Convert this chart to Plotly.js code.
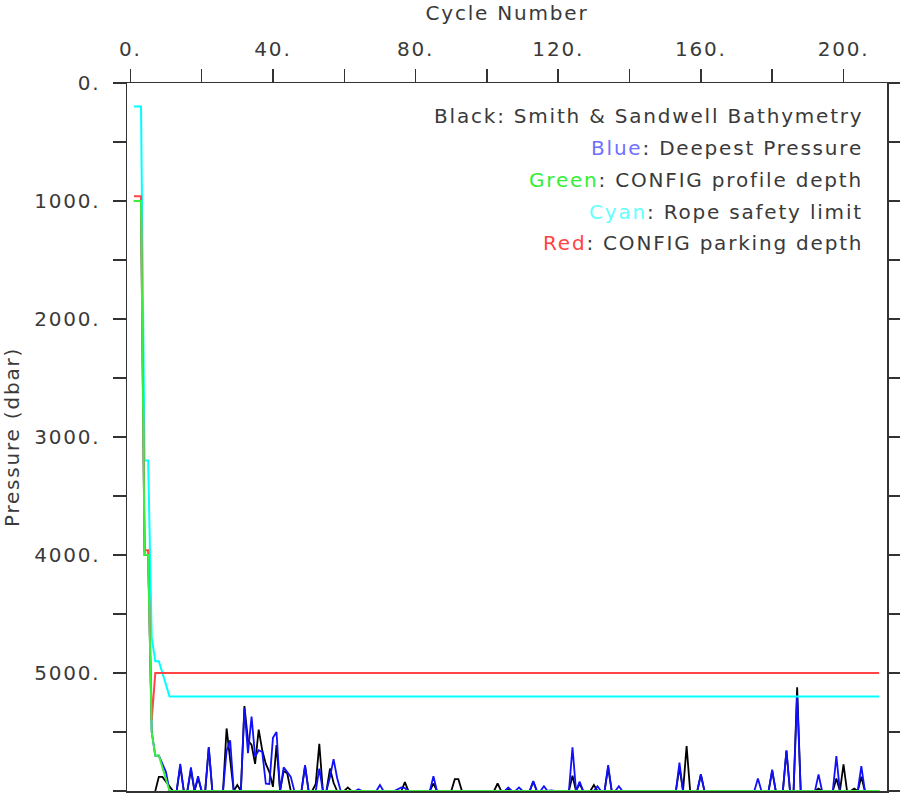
<!DOCTYPE html>
<html>
<head>
<meta charset="utf-8">
<script src="https://cdn.plot.ly/plotly-3.0.1.min.js"></script>
<style>
html,body{margin:0;padding:0;background:#fff;}
#chart{width:900px;height:800px;}
svg text{letter-spacing:1.8px;}
</style>
</head>
<body>
<div id="chart"></div>
<script>
// Smith & Sandwell bathymetry (dbar) per cycle 1..210 (null = below plot / not shown)
var bathymetry = [
  null,null,null,null,null,null,6000,5880,5880,5920,
  5950,6000,6000,5790,6000,6000,5820,6000,5890,6000,
  6000,5630,6000,6000,6000,6000,5470,5740,6000,5950,
  6000,5280,5570,5610,5770,5480,5655,5770,5840,5965,
  5610,6000,5830,5850,6000,6000,6000,6000,5790,6000,
  6000,5940,5600,6000,6000,5810,5930,6000,6000,6000,
  5970,6000,6000,6000,6000,6000,6000,6000,6000,6000,
  6000,6000,6000,6000,6000,6000,5925,6000,6000,6000,
  6000,6000,6000,6000,5935,6000,6000,6000,6000,6000,
  5900,5900,6000,6000,6000,6000,6000,6000,6000,6000,
  6000,6000,5935,6000,6000,5985,6000,6000,6000,6000,
  6000,6000,5920,6000,6000,6000,6000,6000,6000,6000,
  6000,6000,6000,5870,6000,5940,6000,6000,6000,5950,
  6000,6000,6000,5800,6000,6000,6000,6000,6000,6000,
  6000,6000,6000,6000,6000,6000,6000,6000,6000,6000,
  6000,6000,6000,5800,6000,5620,6000,6000,6000,5860,
  6000,6000,6000,6000,6000,6000,6000,6000,6000,6000,
  6000,6000,6000,6000,6000,6000,6000,6000,6000,5830,
  6000,6000,6000,5660,6000,6000,5120,6000,6000,6000,
  6000,6000,5980,6000,6000,6000,6000,5895,6000,5775,
  6000,6000,5980,6000,5880,6000,6000,6000,6000,6000
];
// Deepest pressure (dbar) per cycle 1..210
var deepestPressure = [
  1000,1000,1000,4000,4000,5500,5700,5700,5775,5840,
  6000,6000,6000,5770,6000,6000,5800,6000,5875,6000,
  6000,5630,6000,6000,6000,6000,5660,5570,6000,6000,
  6000,5300,5680,5370,5710,5655,5670,5937,5940,5550,
  5500,6000,5800,5840,5880,6000,6000,6000,5780,6000,
  6000,6000,5810,6000,6000,5880,5730,5890,6000,6000,
  6000,6000,6000,5985,6000,6000,6000,6000,6000,5950,
  6000,6000,6000,6000,5985,5970,5975,6000,6000,6000,
  6000,6000,6000,6000,5875,6000,6000,6000,6000,6000,
  6000,6000,6000,6000,6000,6000,6000,6000,6000,6000,
  6000,6000,6000,6000,6000,5970,6000,6000,5970,6000,
  6000,6000,5915,6000,6000,5960,6000,5995,6000,6000,
  5995,6000,6000,5630,6000,5920,6000,6000,6000,6000,
  5960,6000,6000,5780,6000,6000,5960,6000,6000,6000,
  6000,6000,6000,6000,6000,6000,6000,6000,6000,6000,
  6000,6000,6000,5760,6000,6000,6000,6000,6000,5860,
  6000,6000,6000,6000,6000,6000,6000,6000,6000,6000,
  6000,6000,6000,6000,6000,5895,6000,6000,6000,5820,
  6000,6000,6000,5655,6000,6000,5190,6000,6000,6000,
  6000,6000,5860,6000,6000,6000,6000,5705,6000,6000,
  6000,6000,6000,6000,5790,6000,6000,6000,6000,6000
];
// Step series given at their break-point cycles
var profileCycles = [1,3,4,5,6,7,8,9,10,11,210];
var profileDepth  = [1000,1000,4000,4000,5500,5700,5700,5800,5880,6000,6000];
var ropeCycles = [1,3,4,5,6,7,8,11,210];
var ropeLimit  = [200,200,3200,3200,4700,4900,4900,5200,5200];
var parkCycles = [1,3,4,5,6,7,210];
var parkDepth  = [960,960,3960,3960,5400,5000,5000];

var xTickVals = [0,20,40,60,80,100,120,140,160,180,200];
var xTickText = ['0.','','40.','','80.','','120.','','160.','','200.'];
var yTickVals = [0,500,1000,1500,2000,2500,3000,3500,4000,4500,5000,5500,6000];
var yTickText = ['0.','','1000.','','2000.','','3000.','','4000.','','5000.','','6000.'];

var cycles = bathymetry.map(function(_, i){ return i + 1; });

var FONT = 'DejaVu Sans, sans-serif';
var AX = '#333333';
var TXT = '#3a3a3a';

var traces = [
  {x: cycles, y: bathymetry, mode:'lines', line:{color:'#000000', width:1.8}, connectgaps:false, hoverinfo:'skip'},
  {x: cycles, y: deepestPressure, mode:'lines', line:{color:'#1010ff', width:1.8}, hoverinfo:'skip'},
  {x: ropeCycles, y: ropeLimit, mode:'lines', line:{color:'#00ffff', width:2}, hoverinfo:'skip'},
  {x: parkCycles, y: parkDepth, mode:'lines', line:{color:'#ff4545', width:2}, hoverinfo:'skip'},
  {x: profileCycles, y: profileDepth, mode:'lines', line:{color:'#3cef3c', width:2}, hoverinfo:'skip'}
];

var legendLines = [
  ['Black', TXT, ': Smith &amp; Sandwell Bathymetry'],
  ['Blue', '#7070ff', ': Deepest Pressure'],
  ['Green', '#33ee33', ': CONFIG profile depth'],
  ['Cyan', '#66ffff', ': Rope safety limit'],
  ['Red', '#ff4444', ': CONFIG parking depth']
];
var legendY = [0.9534, 0.9082, 0.863, 0.8178, 0.774];
var annotations = legendLines.map(function(l, i){
  return {
    xref:'paper', yref:'paper', x:0.971, y:legendY[i], xanchor:'right', yanchor:'middle',
    showarrow:false,
    text:'<span style="color:' + l[1] + '">' + l[0] + '</span>' + l[2],
    font:{family:FONT, size:20, color:TXT}
  };
});

var layout = {
  width:900, height:800,
  margin:{l:127, r:13, t:83, b:9, pad:0},
  paper_bgcolor:'#ffffff', plot_bgcolor:'#ffffff',
  showlegend:false,
  xaxis:{
    side:'top', range:[-0.93, 212.2], autorange:false,
    tickmode:'array', tickvals:xTickVals, ticktext:xTickText,
    ticks:'outside', ticklen:13, tickwidth:1.5, tickcolor:AX,
    showline:true, linecolor:AX, linewidth:1.5, mirror:true,
    showgrid:false, zeroline:false,
    tickfont:{family:FONT, size:20, color:TXT},
    ticklabelstandoff:5,
    title:{text:'Cycle Number', font:{family:FONT, size:20, color:TXT}, standoff:10},
    automargin:false
  },
  yaxis:{
    range:[6000, 0], autorange:false,
    tickmode:'array', tickvals:yTickVals, ticktext:yTickText,
    ticks:'outside', ticklen:13, tickwidth:1.5, tickcolor:AX,
    showline:true, linecolor:AX, linewidth:1.5, mirror:'ticks',
    showgrid:false, zeroline:false,
    tickfont:{family:FONT, size:20, color:TXT},
    ticklabelstandoff:8,
    title:{text:'Pressure (dbar)', font:{family:FONT, size:20, color:TXT}, standoff:18},
    automargin:false
  },
  annotations: annotations
};

Plotly.newPlot('chart', traces, layout, {displayModeBar:false, staticPlot:true});
</script>
</body>
</html>
